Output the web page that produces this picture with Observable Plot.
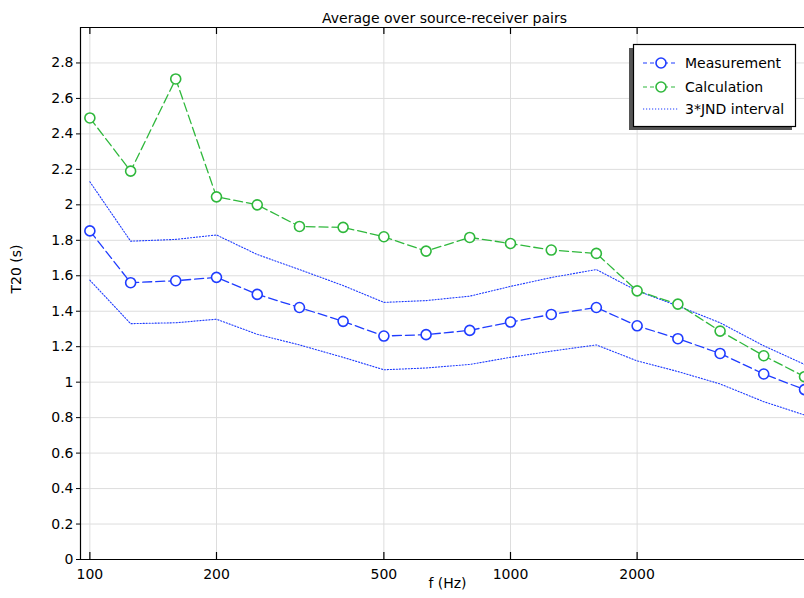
<!DOCTYPE html>
<html>
<head>
<meta charset="utf-8">
<script src="https://cdn.jsdelivr.net/npm/d3@7"></script>
<script src="https://cdn.jsdelivr.net/npm/@observablehq/plot@0.6"></script>
<style>
  html, body { margin: 0; padding: 0; background: #fff; }
  #chart { position: relative; width: 804px; height: 598px; overflow: hidden; }
  svg { font-family: "DejaVu Sans", sans-serif; }
</style>
</head>
<body>
<div id="chart"></div>
<script>
const freqs = [100, 125, 160, 200, 250, 315, 400, 500, 630, 800, 1000, 1250, 1600, 2000, 2500, 3150, 4000, 5000];
const measurement = [1.853, 1.561, 1.572, 1.591, 1.495, 1.421, 1.343, 1.260, 1.268, 1.292, 1.339, 1.382, 1.421, 1.318, 1.245, 1.162, 1.046, 0.958];
const calculation = [2.49, 2.19, 2.71, 2.045, 2.0, 1.878, 1.873, 1.820, 1.739, 1.816, 1.782, 1.745, 1.726, 1.515, 1.44, 1.288, 1.149, 1.031];
const jndUpper = [2.13, 1.795, 1.805, 1.83, 1.72, 1.635, 1.545, 1.45, 1.46, 1.485, 1.54, 1.59, 1.635, 1.515, 1.43, 1.335, 1.205, 1.10];
const jndLower = [1.575, 1.33, 1.335, 1.355, 1.27, 1.21, 1.14, 1.07, 1.08, 1.10, 1.14, 1.175, 1.21, 1.12, 1.06, 0.99, 0.89, 0.815];
const xTicks = [100, 200, 500, 1000, 2000];
const yTicks = [0, 0.2, 0.4, 0.6, 0.8, 1, 1.2, 1.4, 1.6, 1.8, 2, 2.2, 2.4, 2.6, 2.8];
const seriesNames = ["Measurement", "Calculation", "3*JND interval"];
const title = "Average over source-receiver pairs";
const xLabel = "f (Hz)";
const yLabel = "T20 (s)";

const BLUE = "#1f3cff";
const GREEN = "#2fb83c";
const GRID = "#dddddd";
const FS = 14;

const rows = (ys) => freqs.map((f, i) => ({f, v: ys[i]}));
const meas = rows(measurement), calc = rows(calculation), up = rows(jndUpper), lo = rows(jndLower);

const plot = Plot.plot({
  width: 804,
  height: 598,
  marginLeft: 80,
  marginRight: 0,
  marginTop: 27,
  marginBottom: 39,
  style: {fontFamily: "DejaVu Sans, sans-serif", fontSize: FS + "px", color: "#000", background: "#fff"},
  x: {type: "log", domain: [95, 5000]},
  y: {domain: [0, 3]},
  marks: [
    Plot.gridY(yTicks, {stroke: GRID, strokeOpacity: 1, strokeWidth: 1}),
    Plot.gridX(xTicks, {stroke: GRID, strokeOpacity: 1, strokeWidth: 1}),
    Plot.lineY(up, {x: "f", y: "v", stroke: BLUE, strokeWidth: 1.1, strokeDasharray: "1.2,1.8"}),
    Plot.lineY(lo, {x: "f", y: "v", stroke: BLUE, strokeWidth: 1.1, strokeDasharray: "1.2,1.8"}),
    Plot.lineY(calc, {x: "f", y: "v", stroke: GREEN, strokeWidth: 1.3, strokeDasharray: "9,4"}),
    Plot.lineY(meas, {x: "f", y: "v", stroke: BLUE, strokeWidth: 1.3, strokeDasharray: "9,4"}),
    Plot.dot(calc, {x: "f", y: "v", r: 5, stroke: GREEN, fill: "white", strokeWidth: 1.6}),
    Plot.dot(meas, {x: "f", y: "v", r: 5, stroke: BLUE, fill: "white", strokeWidth: 1.6}),
    Plot.ruleY([0], {stroke: "black", strokeWidth: 1.2}),
    Plot.ruleY([3], {stroke: "black", strokeWidth: 1.2}),
    Plot.ruleX([95], {stroke: "black", strokeWidth: 1.2}),
    Plot.tickX(xTicks, {x: d => d, insetTop: 525, stroke: "black", strokeWidth: 1.2}),
    Plot.tickX(xTicks, {x: d => d, insetBottom: 525, stroke: "black", strokeWidth: 1.2}),
    Plot.axisX({ticks: xTicks, tickSize: 0, tickPadding: 10, tickFormat: d => String(d), label: null, fontSize: FS}),
    Plot.axisY({ticks: yTicks, tickSize: 4, tickPadding: 3, tickFormat: d => String(+d.toFixed(1)), label: null, fontSize: FS}),
    Plot.text([title], {frameAnchor: "top", dy: -14, dx: 2, fontSize: FS, fill: "black"}),
    Plot.text([xLabel], {frameAnchor: "bottom", dy: 28, dx: 5, fontSize: FS, fill: "black"}),
    Plot.text([yLabel], {frameAnchor: "left", dx: -64, rotate: -90, fontSize: FS, fill: "black"})
  ]
});

document.getElementById("chart").appendChild(plot);

// Legend
const svg = d3.select(plot);
const lg = svg.append("g").attr("font-family", "DejaVu Sans, sans-serif").attr("font-size", FS).attr("text-anchor", "start");
lg.append("rect").attr("x", 629).attr("y", 48).attr("width", 163).attr("height", 82).attr("fill", "#555");
lg.append("rect").attr("x", 633.5).attr("y", 44.5).attr("width", 162).attr("height", 82).attr("fill", "white").attr("stroke", "black").attr("stroke-width", 1.2);
const items = [
  {name: seriesNames[0], color: BLUE, dash: "4,3", marker: true, y: 63},
  {name: seriesNames[1], color: GREEN, dash: "4,3", marker: true, y: 87},
  {name: seriesNames[2], color: BLUE, dash: "1.2,1.8", marker: false, y: 109}
];
items.forEach(it => {
  lg.append("line").attr("x1", 643).attr("x2", 678).attr("y1", it.y).attr("y2", it.y)
    .attr("stroke", it.color).attr("stroke-width", 1.2).attr("stroke-dasharray", it.dash);
  if (it.marker) {
    lg.append("circle").attr("cx", 661).attr("cy", it.y).attr("r", 5)
      .attr("fill", "white").attr("stroke", it.color).attr("stroke-width", 1.6);
  }
  lg.append("text").attr("x", 685).attr("y", it.y).attr("dy", "0.35em").attr("fill", "black").text(it.name);
});
</script>
</body>
</html>
